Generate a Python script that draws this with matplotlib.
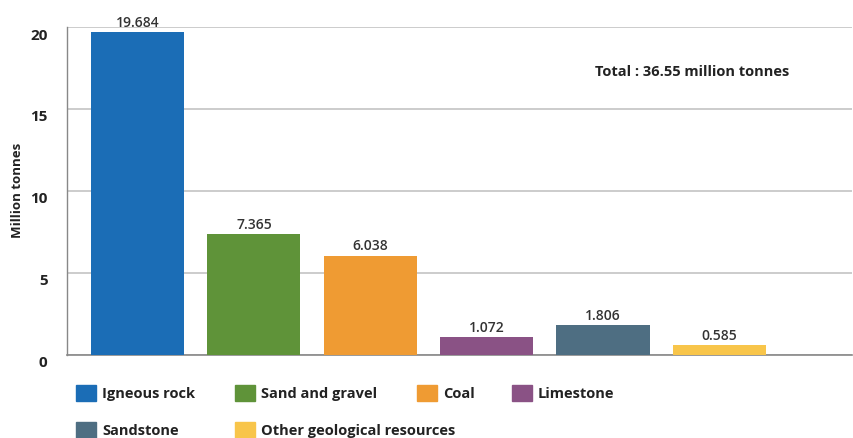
import matplotlib
matplotlib.use("Agg")
import matplotlib.pyplot as plt
import matplotlib.transforms as mtransforms
from matplotlib.patches import Rectangle

categories = ["Igneous rock", "Sand and gravel", "Coal", "Limestone", "Sandstone", "Other geological resources"]
values = [19.684, 7.365, 6.038, 1.072, 1.806, 0.585]
value_labels = ["19.684", "7.365", "6.038", "1.072", "1.806", "0.585"]
colors = ["#1b6db6", "#5f9339", "#ef9b33", "#8a5285", "#4e6e82", "#f8c54a"]
yticks = [0, 5, 10, 15, 20]
total_text = "Total : 36.55 million tonnes"
ylabel = "Million tonnes"

plt.rcParams['font.family'] = ['Open Sans', 'DejaVu Sans']

W, H = 854, 439
fig = plt.figure(figsize=(W / 100, H / 100), dpi=100)
ax = fig.add_axes([67 / W, 1 - 355.7 / H, (852 - 67) / W, (355.7 - 28) / H])

x = list(range(len(values)))
ax.bar(x, values, width=0.8, color=colors, zorder=3)
for xi, v, lab in zip(x, values, value_labels):
    ax.text(xi, v + 0.2, lab, ha='center', va='bottom', fontsize=10,
            fontweight='semibold', color='#333333', zorder=4)

ax.set_xlim(-0.606, 6.14)
ax.set_ylim(0, 20)
ax.set_yticks(yticks)
ax.set_yticklabels([str(t) for t in yticks])
ax.set_xticks([])
ax.grid(axis='y', color='#c4c4c4', linewidth=1.2, zorder=0)
for s in ['top', 'right']:
    ax.spines[s].set_visible(False)
ax.spines['left'].set_color('#888888')
ax.spines['bottom'].set_color('#888888')
ax.spines['left'].set_linewidth(1.0)
ax.spines['bottom'].set_linewidth(1.2)
ax.tick_params(axis='y', length=0, pad=14, labelsize=11)
offset = mtransforms.ScaledTranslation(0, -6 / 100, fig.dpi_scale_trans)
for lbl in ax.get_yticklabels():
    lbl.set_fontweight('bold')
    lbl.set_color('#222222')
    lbl.set_transform(lbl.get_transform() + offset)

fig.text(18 / W, 1 - 190 / H, ylabel, rotation=90, ha='center', va='center',
         fontsize=9.5, fontweight='bold', color='#222222')

fig.text(595 / W, 1 - 72 / H, total_text, ha='left', va='center',
         fontsize=10.5, fontweight='bold', color='#222222')

# legend (manual placement to match reference)
leg_pos = [(76, 394), (235, 394), (417, 394), (512, 394), (76, 431), (235, 431)]
for (lx, ly), c, name in zip(leg_pos, colors, categories):
    fig.patches.append(Rectangle((lx / W, 1 - (ly + 8) / H), 20 / W, 16 / H,
                                 transform=fig.transFigure, color=c, figure=fig))
    fig.text((lx + 26) / W, 1 - ly / H, name, ha='left', va='center',
             fontsize=10.5, fontweight='bold', color='#222222')

fig.savefig("out.png", dpi=100)
